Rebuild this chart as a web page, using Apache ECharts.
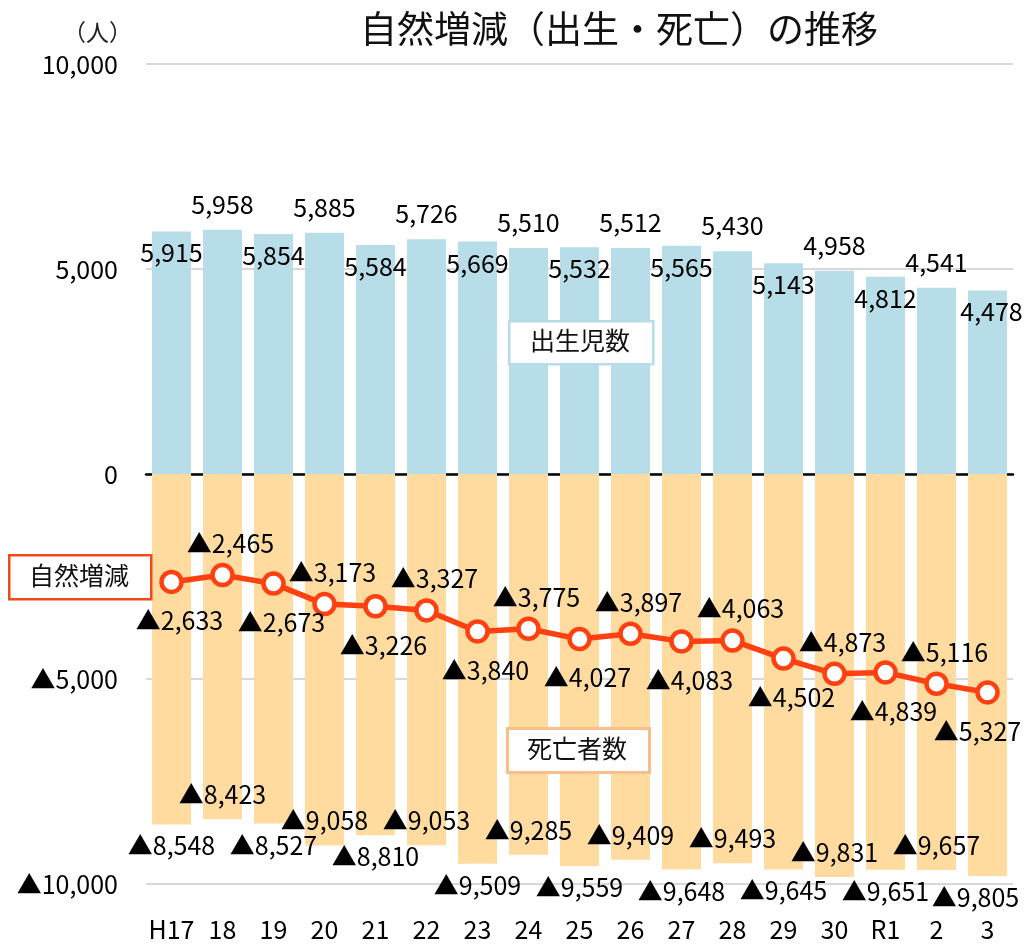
<!DOCTYPE html>
<html><head><meta charset="utf-8">
<script src="https://cdn.jsdelivr.net/npm/echarts@6/dist/echarts.min.js"></script>
<style>html,body{margin:0;padding:0;background:#fff}#c{width:1025px;height:946px}</style>
</head><body><div id="c"></div>
<script>
const categories = ['H17','18','19','20','21','22','23','24','25','26','27','28','29','30','R1','2','3'];
const births = [5915,5958,5854,5885,5584,5726,5669,5510,5532,5512,5565,5430,5143,4958,4812,4541,4478];
const deaths = [8548,8423,8527,9058,8810,9053,9509,9285,9559,9409,9648,9493,9645,9831,9651,9657,9805];
const naturalDecrease = [2633,2465,2673,3173,3226,3327,3840,3775,4027,3897,4083,4063,4502,4873,4839,5116,5327];
const yTicks = [-10000,-5000,0,5000,10000];

const FONT = 'Noto Sans CJK JP';
const fmt = v => Math.abs(v).toLocaleString('en-US');
const tri = v => (v < 0 ? '▲' : '') + fmt(v);
const last = categories.length - 1;

const birthData = births.map((v,i) => ({
  value: v,
  label: i % 2 === 0 ? {position:'insideTop', distance:9, offset:[i === last ? 4 : 0, 0]} : {position:'top', distance:13}
}));
const deathData = deaths.map((v,i) => ({
  value: -v,
  label: i % 2 === 0 ? {position:'bottom', distance:9, offset:[i === last ? -12 : 0, 0]} : {position:'insideBottom', distance:12}
}));
const natData = naturalDecrease.map((v,i) => ({
  value: -v,
  label: i % 2 === 0 ? {position:'bottom', distance:14, offset:[i === last ? -10 : 8, 0]} : {position:'top', distance:7, offset:[8,0]}
}));

const chart = echarts.init(document.getElementById('c'));
const labelStyle = {show:true, color:'#000', fontSize:25, fontFamily:FONT};
chart.setOption({
  animation:false,
  textStyle:{fontFamily:FONT},
  title:{text:'自然増減（出生・死亡）の推移', left:614, textAlign:'center', top:5,
    textStyle:{fontSize:37, fontWeight:'normal', color:'#111', fontFamily:FONT}},
  grid:{left:146, right:12, top:64, bottom:62, containLabel:false},
  xAxis:[{
    type:'category', data:categories, position:'bottom',
    axisLine:{show:false, onZero:false}, axisTick:{show:false},
    axisLabel:{fontSize:25, color:'#000', margin:33, interval:0, fontFamily:FONT}
  },{
    type:'category', data:categories, position:'bottom',
    axisLine:{show:true, onZero:true, lineStyle:{color:'#000', width:2.5}},
    axisTick:{show:false}, axisLabel:{show:false}, splitLine:{show:false}
  }],
  yAxis:{
    type:'value', min:yTicks[0], max:yTicks[yTicks.length-1], interval:5000,
    name:'（人）', nameLocation:'end', nameGap:32,
    nameTextStyle:{fontSize:23, color:'#222', align:'right', verticalAlign:'middle', padding:[0,14,0,0], fontFamily:FONT},
    axisLine:{show:false}, axisTick:{show:false},
    axisLabel:{fontSize:25, color:'#000', margin:28, formatter:v => tri(v), fontFamily:FONT},
    splitLine:{lineStyle:{color:'#D9D9D9', width:2}}
  },
  series:[
    {type:'bar', name:'出生児数', data:birthData, barWidth:39, barGap:'-100%',
      itemStyle:{color:'#B7DDE8'}, label:Object.assign({}, labelStyle, {formatter:p => tri(p.value)})},
    {type:'bar', name:'死亡者数', data:deathData, barWidth:39, barGap:'-100%',
      itemStyle:{color:'#FFDBA0'}, label:Object.assign({}, labelStyle, {formatter:p => tri(p.value)})},
    {type:'line', name:'自然増減', data:natData, symbol:'circle', symbolSize:20, z:5,
      lineStyle:{color:'#FF4010', width:5.5},
      itemStyle:{color:'#fff', borderColor:'#FF4010', borderWidth:4.5},
      label:Object.assign({}, labelStyle, {formatter:p => tri(p.value)})}
  ],
  graphic:[
    {type:'rect', z:100, left:508, top:320, shape:{width:144,height:43}, style:{fill:'#fff', stroke:'#B7DDE8', lineWidth:2.5}},
    {type:'text', z:101, left:530, top:328, style:{text:'出生児数', fontSize:25, fill:'#111', fontFamily:FONT}},
    {type:'rect', z:100, left:506, top:727, shape:{width:142,height:44}, style:{fill:'#fff', stroke:'#F8BE8C', lineWidth:3}},
    {type:'text', z:101, left:527, top:736, style:{text:'死亡者数', fontSize:25, fill:'#111', fontFamily:FONT}},
    {type:'rect', z:100, left:8, top:554, shape:{width:142,height:44}, style:{fill:'#fff', stroke:'#F04A1A', lineWidth:2.5}},
    {type:'text', z:101, left:29, top:563, style:{text:'自然増減', fontSize:25, fill:'#111', fontFamily:FONT}}
  ]
});
</script></body></html>
